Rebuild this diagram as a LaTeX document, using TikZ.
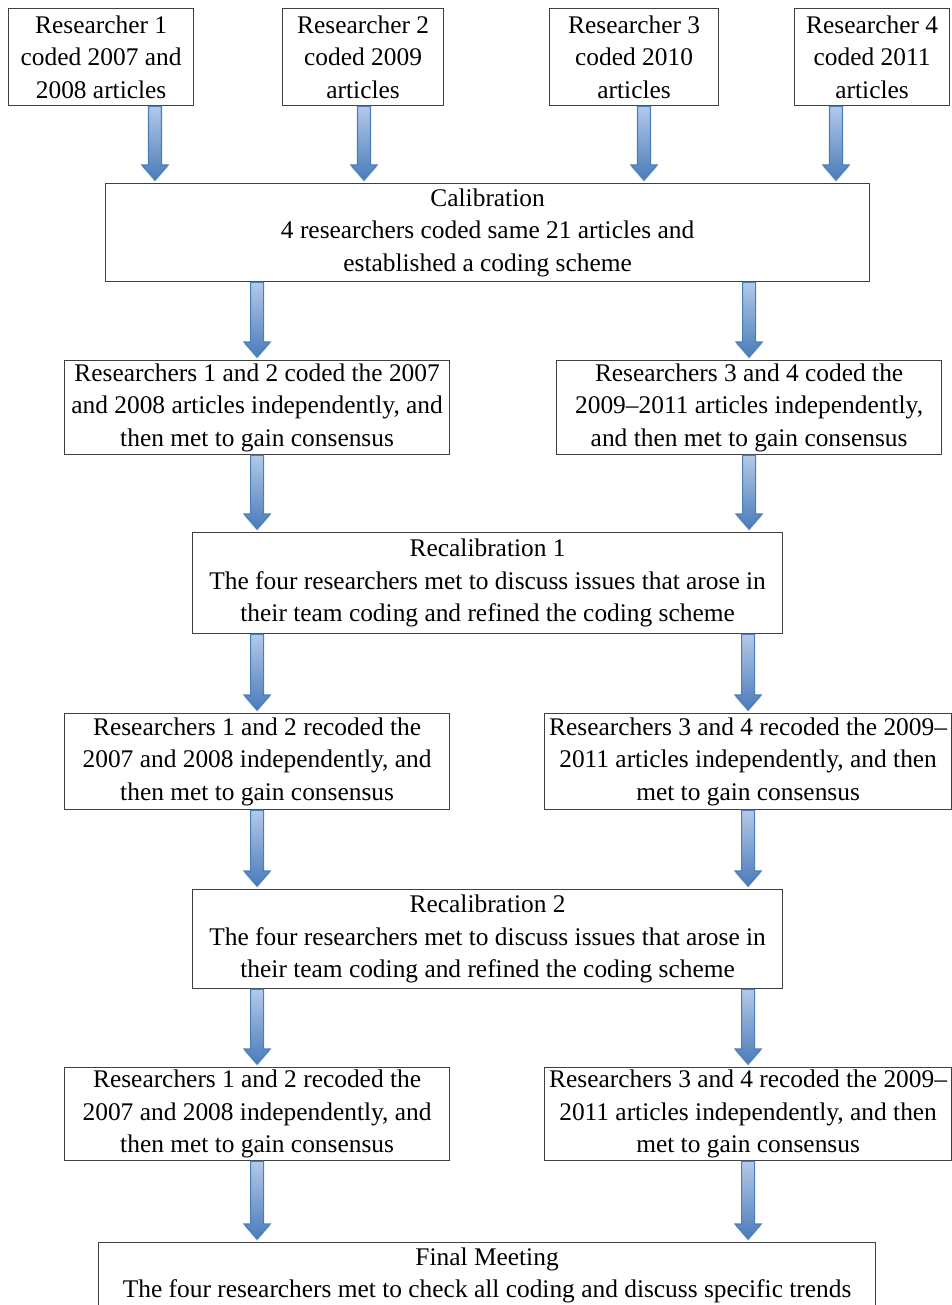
\documentclass[tikz,border=0pt]{standalone}
\usepackage{fontspec}
\setmainfont{Liberation Serif}
\usetikzlibrary{calc,shadows}

\definecolor{boxline}{HTML}{404040}
\definecolor{arrowline}{HTML}{4A7EBB}
\definecolor{arrowlight}{HTML}{B3C9E8}
\definecolor{arrowdark}{HTML}{4A7CBA}

%% block arrows are drawn straight down from the start point, tip stops a little above the target
\def\ShaftHalf{3.25pt}
\def\HeadHalf{6.5pt}
\def\HeadLength{7.5pt}
\def\TipGap{1.5pt}

\tikzset{
  stepbox/.style={draw=boxline, line width=0.6pt, anchor=north west, align=center,
    inner sep=0pt, font=\fontsize{12.7}{16.25}\selectfont},
  blockarrow/.style={draw=arrowline, line width=0.6pt, top color=arrowlight, bottom color=arrowdark,
    drop shadow={shadow xshift=0pt, shadow yshift=-1pt, opacity=0.3},
    to path={let \p1=(\tikztostart), \p2=(\tikztotarget) in
      (\x1-\ShaftHalf,\y1) -- (\x1+\ShaftHalf,\y1) -- (\x1+\ShaftHalf,\y2+\TipGap+\HeadLength)
      -- (\x1+\HeadHalf,\y2+\TipGap+\HeadLength) -- (\x1,\y2+\TipGap)
      -- (\x1-\HeadHalf,\y2+\TipGap+\HeadLength) -- (\x1-\ShaftHalf,\y2+\TipGap+\HeadLength) -- cycle}}
}

\begin{document}
\begin{tikzpicture}[x=0.5pt,y=0.5pt]

\useasboundingbox (0,0) rectangle (952,-1305);

%% first row: one researcher per year
\node[stepbox, minimum width=92.5pt, minimum height=48.5pt] (r1) at (8,-8) {Researcher 1\\coded 2007 and\\2008 articles};
\node[stepbox, minimum width=80.5pt, minimum height=48.5pt] (r2) at (282,-8) {Researcher 2\\coded 2009\\articles};
\node[stepbox, minimum width=84.5pt, minimum height=48.5pt] (r3) at (549,-8) {Researcher 3\\coded 2010\\articles};
\node[stepbox, minimum width=77.5pt, minimum height=48.5pt] (r4) at (794,-8) {Researcher 4\\coded 2011\\articles};

\node[stepbox, minimum width=382pt, minimum height=49pt] (cal) at (105,-183) {Calibration\\4 researchers coded same 21 articles and\\established a coding scheme};

%% arrow columns of the first row
\coordinate (in1) at (155,-183);
\coordinate (in2) at (364,-183);
\coordinate (in3) at (644,-183);
\coordinate (in4) at (836,-183);

%% team coding, first round
\node[stepbox, minimum width=192.5pt, minimum height=47pt] (r12a) at (64,-360) {Researchers 1 and 2 coded the 2007\\and 2008 articles independently, and\\then met to gain consensus};
\node[stepbox, minimum width=192.5pt, minimum height=47pt] (r34a) at (556,-360) {Researchers 3 and 4 coded the\\2009--2011 articles independently,\\and then met to gain consensus};

\node[stepbox, minimum width=295pt, minimum height=50.5pt] (recal1) at (192,-532) {Recalibration 1\\The four researchers met to discuss issues that arose in\\their team coding and refined the coding scheme};

%% team coding, second round
\node[stepbox, minimum width=192.5pt, minimum height=48pt] (r12b) at (64,-713) {Researchers 1 and 2 recoded the\\2007 and 2008 independently, and\\then met to gain consensus};
\node[stepbox, minimum width=203.5pt, minimum height=48pt] (r34b) at (544,-713) {Researchers 3 and 4 recoded the 2009--\\2011 articles independently, and then\\met to gain consensus};

\node[stepbox, minimum width=295pt, minimum height=49.5pt] (recal2) at (192,-889) {Recalibration 2\\The four researchers met to discuss issues that arose in\\their team coding and refined the coding scheme};

%% team coding, third round
\node[stepbox, minimum width=192.5pt, minimum height=46.5pt] (r12c) at (64,-1067) {Researchers 1 and 2 recoded the\\2007 and 2008 independently, and\\then met to gain consensus};
\node[stepbox, minimum width=203.5pt, minimum height=46.5pt] (r34c) at (544,-1067) {Researchers 3 and 4 recoded the 2009--\\2011 articles independently, and then\\met to gain consensus};

\node[stepbox, minimum width=388.5pt, minimum height=33pt] (final) at (98,-1242) {Final Meeting\\The four researchers met to check all coding and discuss specific trends};

%% arrows
\path[blockarrow] (r1.south -| in1) to (in1);
\path[blockarrow] (r2.south -| in2) to (in2);
\path[blockarrow] (r3.south -| in3) to (in3);
\path[blockarrow] (r4.south -| in4) to (in4);

\path[blockarrow] (cal.south -| r12a.north) to (r12a.north);
\path[blockarrow] (cal.south -| r34a.north) to (r34a.north);
\path[blockarrow] (r12a.south) to (recal1.north);
\path[blockarrow] (r34a.south) to (recal1.north);

\path[blockarrow] (recal1.south -| r12b.north) to (r12b.north);
\path[blockarrow] (recal1.south -| r34b.north) to (r34b.north);
\path[blockarrow] (r12b.south) to (recal2.north);
\path[blockarrow] (r34b.south) to (recal2.north);

\path[blockarrow] (recal2.south -| r12c.north) to (r12c.north);
\path[blockarrow] (recal2.south -| r34c.north) to (r34c.north);
\path[blockarrow] (r12c.south) to (final.north);
\path[blockarrow] (r34c.south) to (final.north);

\end{tikzpicture}
\end{document}
